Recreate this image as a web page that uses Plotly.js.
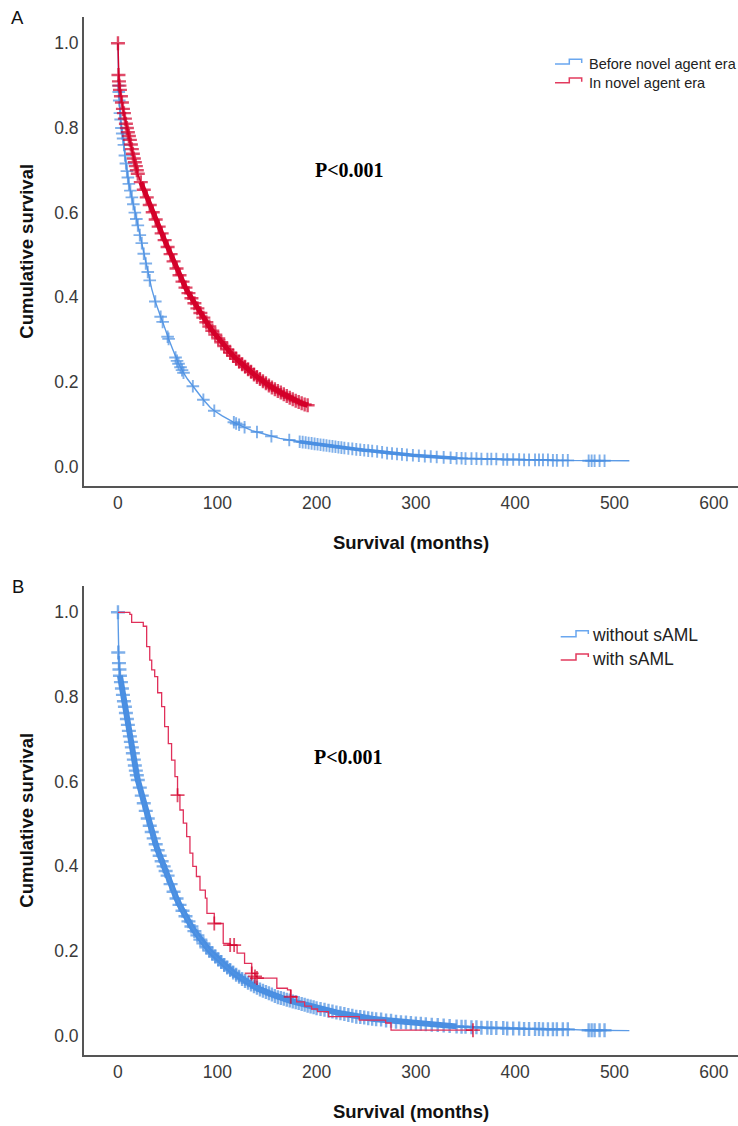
<!DOCTYPE html>
<html>
<head>
<meta charset="utf-8">
<script src="https://cdn.plot.ly/plotly-3.0.1.min.js"></script>
<style>html,body{margin:0;padding:0;background:#fff;}#chart{width:738px;height:1126px;}</style>
</head>
<body>
<div id="chart"></div>
<script>
// ---------- Panel A: Before novel agent era (time in months, survival, censored flag) ----------
const aBeforeT = [
  0, 0.3, 0.8, 1.3, 2, 2.7, 3.5, 4.3, 5.2, 6,
  7, 8, 9, 10, 11, 12.5, 14, 15.5, 17, 18.5,
  20, 22, 24, 26, 28, 30, 32, 34, 37.6, 40,
  43, 45, 50, 51, 55, 58, 59.5, 61, 63, 64.5,
  66, 70, 75.4, 80, 86, 93, 97, 105, 110, 116.7,
  119, 122, 127.5, 135, 140, 147, 154.5, 163, 172.5, 177,
  183, 186, 189, 192, 195, 198, 201, 204, 207, 210,
  213, 216, 219, 222, 225, 228, 232, 236, 240, 244,
  248, 252, 256, 261, 266, 271, 276, 281, 286, 291,
  297, 303, 309, 315, 321, 328, 335, 341, 346, 350,
  356, 361, 366, 372, 376, 381, 388, 392, 398, 404,
  409, 414, 420, 424, 428, 433, 438, 442, 448, 453,
  474, 477, 480, 485, 490, 515
];
const aBeforeS = [
  1.0, .90, .885, .865, .835, .82, .80, .787, .775, .76,
  .735, .716, .698, .683, .668, .652, .636, .62, .60, .585,
  .57, .547, .528, .503, .48, .46, .44, .42, .39, .372,
  .354, .342, .307, .302, .278, .258, .25, .243, .235, .228,
  .222, .207, .19, .175, .158, .14, .132, .12, .113, .105,
  .102, .099, .093, .085, .082, .077, .072, .067, .063, .061,
  .059, .058, .057, .056, .055, .054, .053, .052, .051, .050,
  .049, .048, .047, .046, .045, .044, .043, .042, .041, .040,
  .039, .038, .037, .036, .034, .032, .031, .030, .029, .028,
  .027, .026, .025, .024, .023, .022, .021, .020, .020, .019,
  .019, .019, .018, .018, .018, .018, .017, .017, .017, .017,
  .016, .016, .016, .016, .016, .016, .015, .015, .015, .015,
  .014, .014, .014, .014, .014, .014
];
const aBeforeC = [
  0,1,1,1,1,1,1,1,1,1,
  1,1,1,1,1,1,1,1,1,1,
  1,1,1,1,1,1,1,0,1,0,
  1,1,1,1,0,1,1,1,1,1,
  1,0,1,0,1,0,1,0,0,1,
  1,1,1,0,1,0,1,0,1,0,
  1,1,1,1,1,1,1,1,1,1,
  1,1,1,1,1,1,1,1,1,1,
  1,1,1,1,1,1,1,1,1,1,
  1,1,1,1,1,1,1,1,1,1,
  1,1,1,1,1,1,1,1,1,1,
  1,1,1,1,1,1,1,1,1,1,
  1,1,1,1,1,0
];

// ---------- Panel A: In novel agent era ----------
const aNovelT = [
  0, 0.5, 1, 1.5, 2, 3, 4, 5, 6, 7,
  8, 9, 10, 11, 12, 13, 14, 15, 16, 17,
  18, 19, 20, 23, 26, 29, 32, 35, 38, 41,
  44, 47, 50, 53, 56, 59, 62, 65, 68, 71,
  74, 77, 80, 83, 86, 89, 92, 95, 98, 101,
  104, 107, 110, 113, 116, 119, 122, 125, 128, 131,
  134, 137, 140, 143, 146, 149, 152, 155, 158, 161,
  164, 167, 170, 173, 176, 179, 182, 185, 188, 191
];
const aNovelS = [
  1.0, .925, .91, .90, .89, .875, .86, .845, .835, .822,
  .81, .80, .79, .781, .772, .761, .75, .739, .728, .719,
  .71, .70, .692, .672, .654, .636, .618, .601, .584, .567,
  .551, .535, .519, .502, .485, .468, .452, .437, .423, .410,
  .398, .386, .374, .363, .352, .341, .331, .321, .312, .303,
  .294, .285, .277, .269, .262, .255, .248, .242, .236, .230,
  .224, .218, .212, .207, .202, .197, .192, .187, .183, .179,
  .175, .171, .167, .163, .159, .156, .153, .150, .147, .145
];
const aNovelC = [
  1,1,1,1,1,1,1,1,1,1,
  1,1,1,1,1,1,1,1,1,1,
  1,1,1,1,1,1,1,1,1,1,
  1,1,1,1,1,1,1,1,1,1,
  1,1,1,1,1,1,1,1,1,1,
  1,1,1,1,1,1,1,1,1,1,
  1,1,1,1,1,1,1,1,1,1,
  1,1,1,1,1,1,1,1,1,1
];

// ---------- Panel B: without sAML ----------
const bWithoutT = [
  0, 0.3, 1, 1.5, 2, 3, 4, 5, 6, 7,
  8, 9, 10, 11, 12, 13, 14, 15, 16, 17,
  18, 19, 20, 22, 24, 26, 28, 30, 32, 34,
  36, 38, 40, 42, 44, 46, 48, 50, 53, 56,
  59, 62, 65, 68, 71, 74, 77, 80, 83, 86,
  89, 92, 95, 98, 101, 104, 107, 110, 113, 116,
  119, 122, 125, 128, 131, 134, 137, 140, 143, 146,
  149, 152, 155, 158, 161, 164, 167, 170, 173, 176,
  179, 182, 185, 188, 191, 194, 197, 200, 204, 208,
  212, 216, 220, 224, 228, 232, 236, 240, 244, 248,
  252, 256, 260, 265, 270, 275, 280, 285, 290, 295,
  300, 305, 310, 316, 322, 328, 334, 341, 346, 350,
  356, 361, 366, 372, 376, 381, 388, 392, 398, 404,
  409, 414, 420, 424, 428, 433, 438, 442, 448, 453,
  474, 477, 480, 485, 490, 515
];
const bWithoutS = [
  1.0, .905, .88, .865, .85, .835, .82, .805, .79, .777,
  .762, .748, .734, .72, .707, .694, .681, .667, .652, .638,
  .626, .615, .604, .586, .567, .549, .531, .513, .496, .481,
  .466, .452, .438, .425, .412, .400, .389, .378, .358, .340,
  .324, .309, .295, .282, .270, .258, .247, .237, .227, .218,
  .209, .201, .194, .187, .180, .174, .167, .161, .155, .149,
  .144, .139, .134, .129, .125, .121, .117, .113, .109, .106,
  .103, .100, .097, .094, .091, .089, .087, .085, .083, .081,
  .079, .077, .075, .073, .071, .069, .067, .065, .063, .061,
  .059, .057, .055, .053, .051, .049, .047, .045, .044, .043,
  .041, .040, .039, .038, .036, .035, .033, .032, .031, .030,
  .029, .028, .027, .026, .025, .024, .023, .022, .021, .021,
  .020, .020, .019, .019, .018, .018, .018, .017, .017, .017,
  .016, .016, .016, .016, .015, .015, .015, .015, .015, .015,
  .013, .013, .013, .013, .013, .012
];
const bWithoutC = [
  1,1,1,1,1,1,1,1,1,1,
  1,1,1,1,1,1,1,1,1,1,
  1,1,1,1,1,1,1,1,1,1,
  1,1,1,1,1,1,1,1,1,1,
  1,1,1,1,1,1,1,1,1,1,
  1,1,1,1,1,1,1,1,1,1,
  1,1,1,1,1,1,1,1,1,1,
  1,1,1,1,1,1,1,1,1,1,
  1,1,1,1,1,1,1,1,1,1,
  1,1,1,1,1,1,1,1,1,1,
  1,1,1,1,1,1,1,1,1,1,
  1,1,1,1,1,1,1,1,1,1,
  1,1,1,1,1,1,1,1,1,1,
  1,1,1,1,1,1,1,1,1,1,
  1,1,1,1,1,0
];

// ---------- Panel B: with sAML (step curve) ----------
const bWithT = [
  0, 12, 13.8, 25.5, 28.9, 32, 34, 37, 40, 44,
  47, 50.7, 54, 57.4, 60, 62.4, 65.8, 69.2, 72.5, 75.4,
  79, 82.6, 88, 89.6, 97, 106, 113, 117, 120, 127.5,
  134.7, 138, 140, 160, 170.7, 174, 180, 188, 195, 201,
  212, 243, 269.6, 275, 357.5
];
const bWithS = [
  1.0, .995, .976, .967, .919, .887, .864, .848, .81, .777,
  .73, .69, .651, .612, .568, .533, .502, .47, .431, .40,
  .376, .344, .325, .289, .265, .218, .214, .214, .195, .171,
  .147, .14, .136, .112, .108, .092, .08, .07, .063, .057,
  .045, .037, .030, .013, .013
];
const bWithC = [
  0,0,0,0,0,0,0,0,0,0,
  0,0,0,0,1,0,0,0,0,0,
  0,0,0,0,1,0,1,1,0,0,
  1,1,1,0,0,1,0,0,0,0,
  0,0,0,0,1
];

// ---------- Labels ----------
const xTickVals = [0, 100, 200, 300, 400, 500, 600];
const xTickText = ['0', '100', '200', '300', '400', '500', '600'];
const yTickVals = [0, 0.2, 0.4, 0.6, 0.8, 1.0];
const yTickText = ['0.0', '0.2', '0.4', '0.6', '0.8', '1.0'];
const legendA = ['Before novel agent era', 'In novel agent era'];
const legendB = ['without sAML', 'with sAML'];
const panelLabels = ['A', 'B'];
const pValueText = 'P<0.001';
const xTitle = 'Survival (months)';
const yTitle = 'Cumulative survival';

// ---------- Styling ----------
const W = 738, H = 1126;
const SANS = '"Liberation Sans", Arial, Helvetica, sans-serif';
const SERIF = '"Liberation Serif", "Times New Roman", serif';
const BLUE_LINE = '#5c9be6', BLUE_MARK = '#4a8fe2';
const RED_LINE = '#d4002a', RED_MARK = '#d4002a';
const px = (x) => x / W;
const py = (y) => 1 - y / H;

function km(t, s, c, xa, ya, lineColor, markColor, shape, lw, msize, mlw) {
  return {
    type: 'scatter', mode: 'lines+markers', x: t, y: s,
    xaxis: xa, yaxis: ya, showlegend: false, hoverinfo: 'skip',
    line: {color: lineColor, width: lw, shape: shape},
    marker: {symbol: 'cross-thin', size: c.map(v => v ? msize : 0),
             line: {color: markColor, width: mlw}, color: markColor}
  };
}
// dense stretch of censor marks merges into a solid band: drawn as a wide line on a slice of the same data
function band(t, s, i0, i1, xa, ya, color, lw) {
  return {
    type: 'scatter', mode: 'lines', x: t.slice(i0, i1), y: s.slice(i0, i1),
    xaxis: xa, yaxis: ya, showlegend: false, hoverinfo: 'skip',
    line: {color: color, width: lw}
  };
}

const traces = [
  band(aBeforeT, aBeforeS, 60, 98, 'x', 'y', BLUE_MARK, 3.5),
  km(aBeforeT, aBeforeS, aBeforeC, 'x', 'y', BLUE_LINE, BLUE_MARK, 'linear', 1.4, 9, 1.9),
  band(aNovelT, aNovelS, 23, 80, 'x', 'y', RED_MARK, 5),
  km(aNovelT, aNovelS, aNovelC, 'x', 'y', RED_LINE, RED_MARK, 'linear', 1.5, 10, 2.4),
  band(bWithoutT, bWithoutS, 4, 118, 'x2', 'y2', BLUE_MARK, 6),
  km(bWithoutT, bWithoutS, bWithoutC, 'x2', 'y2', BLUE_LINE, BLUE_MARK, 'linear', 1.4, 10, 2.4),
  km(bWithT, bWithS, bWithC, 'x2', 'y2', '#e0305a', RED_MARK, 'hv', 1.3, 10, 1.8)
];

const yRange = [-0.0456, 1.0628];
const xRange = [-34.2, 624.4];
function xAxis(anchor) {
  return {
    domain: [px(84), 1], range: xRange, anchor: anchor,
    showline: true, linecolor: '#555', linewidth: 2, mirror: false,
    showgrid: false, zeroline: false, ticks: '', automargin: false,
    tickmode: 'array', tickvals: xTickVals, ticktext: xTickText,
    tickfont: {family: SANS, size: 17.5, color: '#3a3a3a'},
    title: {text: '<b>' + xTitle + '</b>', font: {family: SANS, size: 18.5, color: '#111'}, standoff: 24},
    fixedrange: true
  };
}
function yAxis(anchor, top, bottom) {
  return {
    domain: [py(bottom), py(top)], range: yRange, anchor: anchor,
    showline: true, linecolor: '#555', linewidth: 2, mirror: false,
    showgrid: false, zeroline: false, ticks: '', automargin: false,
    tickmode: 'array', tickvals: yTickVals, ticktext: yTickText,
    tickfont: {family: SANS, size: 17.5, color: '#3a3a3a'},
    title: {text: '<b>' + yTitle + '</b>', font: {family: SANS, size: 18.5, color: '#111'}, standoff: 16},
    fixedrange: true
  };
}

function legendShapes(x0, x1, x2, rows) {
  return rows.map(r => ({
    type: 'path', xref: 'paper', yref: 'paper',
    path: 'M' + px(x0) + ',' + py(r.low) + ' L' + px(x1) + ',' + py(r.low) +
          ' L' + px(x1) + ',' + py(r.top) + ' L' + px(x2) + ',' + py(r.top) +
          ' L' + px(x2) + ',' + py(r.end),
    line: {color: r.color, width: 1.5}
  }));
}

const shapes = [].concat(
  legendShapes(555, 569.3, 581.7, [
    {low: 64, top: 59.3, end: 63, color: '#6aa7ef'},
    {low: 82.7, top: 78, end: 81.7, color: '#e23b5e'}
  ]),
  legendShapes(560.7, 576, 588.3, [
    {low: 636.7, top: 630.7, end: 634, color: '#6aa7ef'},
    {low: 660, top: 654, end: 657, color: '#e23b5e'}
  ])
);

function txt(text, x, y, size, opts) {
  return Object.assign({
    text: text, xref: 'paper', yref: 'paper', x: px(x), y: py(y),
    showarrow: false, xanchor: 'left', yanchor: 'middle',
    font: {family: SANS, size: size, color: '#222'}
  }, opts || {});
}

const annotations = [
  txt(panelLabels[0], 17.5, 17, 18.5, {xanchor: 'center', font: {family: SANS, size: 18.5, color: '#111'}}),
  txt(panelLabels[1], 17.5, 586, 18.5, {xanchor: 'center', font: {family: SANS, size: 18.5, color: '#111'}}),
  txt('<b>' + pValueText + '</b>', 349, 170, 20, {xanchor: 'center', font: {family: SERIF, size: 20, color: '#000'}}),
  txt('<b>' + pValueText + '</b>', 348.5, 756.7, 20, {xanchor: 'center', font: {family: SERIF, size: 20, color: '#000'}}),
  txt(legendA[0], 587, 64, 14.5),
  txt(legendA[1], 587, 83.3, 14.5),
  txt(legendB[0], 589.5, 635, 17.5),
  txt(legendB[1], 589.5, 659.3, 17.5)
];

const layout = {
  width: W, height: H,
  margin: {l: 0, r: 0, t: 0, b: 0, pad: 0},
  paper_bgcolor: '#fff', plot_bgcolor: '#fff',
  showlegend: false,
  xaxis: xAxis('y'),
  yaxis: yAxis('x', 16.7, 486),
  xaxis2: xAxis('y2'),
  yaxis2: yAxis('x2', 585.7, 1055),
  shapes: shapes,
  annotations: annotations
};

Plotly.newPlot('chart', traces, layout, {staticPlot: true, displayModeBar: false});
</script>
</body>
</html>
